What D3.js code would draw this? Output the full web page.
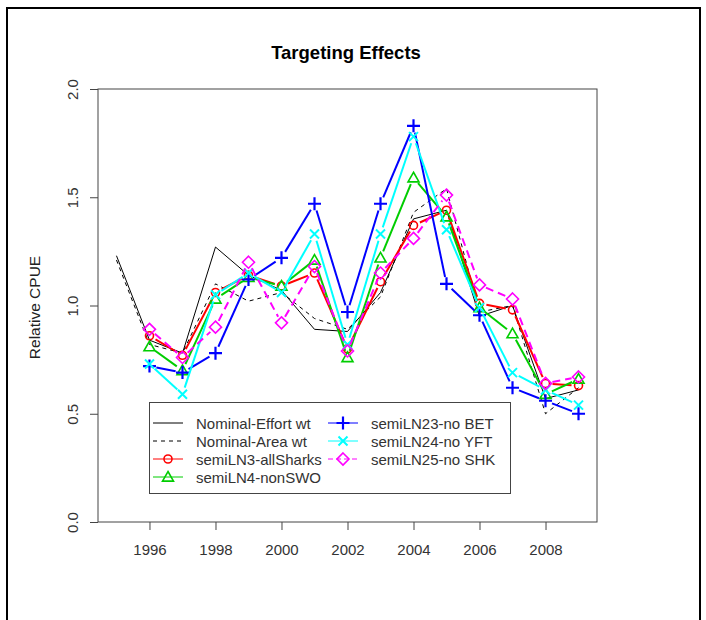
<!DOCTYPE html>
<html>
<head>
<meta charset="utf-8">
<script src="https://cdn.jsdelivr.net/npm/d3@7"></script>
<style>
  html, body { margin: 0; padding: 0; background: #fff; }
  svg { display: block; font-family: "Liberation Sans", Arial, sans-serif; }
</style>
</head>
<body>
<svg id="chart" width="706" height="620"></svg>
<script>
// ---- Data ----
const yearsNominal = [1995,1996,1997,1998,1999,2000,2001,2002,2003,2004,2005,2006,2007,2008,2009];
const yearsSemi    = [1996,1997,1998,1999,2000,2001,2002,2003,2004,2005,2006,2007,2008,2009];
const nominalEffort = [1.23,0.84,0.78,1.27,1.14,1.07,0.89,0.88,1.06,1.40,1.44,0.95,1.00,0.57,0.61];
const nominalArea   = [1.21,0.82,0.78,1.10,1.02,1.06,0.94,0.89,1.04,1.43,1.54,0.97,1.00,0.50,0.62];
const semiLN3  = [0.86,0.77,1.06,1.14,1.09,1.15,0.80,1.11,1.37,1.44,1.01,0.98,0.64,0.63];
const semiLN4  = [0.81,0.70,1.03,1.13,1.09,1.21,0.76,1.22,1.59,1.41,0.99,0.87,0.59,0.66];
const semiLN23 = [0.72,0.69,0.78,1.12,1.22,1.47,0.97,1.47,1.83,1.10,0.955,0.62,0.56,0.50];
const semiLN24 = [0.73,0.59,1.05,1.15,1.06,1.33,0.82,1.33,1.78,1.35,0.99,0.69,0.61,0.54];
const semiLN25 = [0.89,0.76,0.90,1.20,0.92,1.18,0.79,1.15,1.31,1.51,1.095,1.03,0.64,0.67];
const xTicks = [1996,1998,2000,2002,2004,2006,2008];
const yTicks = [0.0,0.5,1.0,1.5,2.0];
const title = "Targeting Effects";
const yLabel = "Relative CPUE";

const series = [
  {name:"Nominal-Effort wt", years:yearsNominal, values:nominalEffort, color:"#000", width:1, dash:null, sym:null, col:0, row:0},
  {name:"Nominal-Area wt",   years:yearsNominal, values:nominalArea,   color:"#000", width:1, dash:"4,4", sym:null, col:0, row:1},
  {name:"semiLN3-allSharks", years:yearsSemi, values:semiLN3,  color:"#FF0000", width:2, dash:null, sym:"circle", col:0, row:2},
  {name:"semiLN4-nonSWO",    years:yearsSemi, values:semiLN4,  color:"#00CD00", width:2, dash:null, sym:"triangle", col:0, row:3},
  {name:"semiLN23-no BET",   years:yearsSemi, values:semiLN23, color:"#0000FF", width:2, dash:null, sym:"plus", col:1, row:0},
  {name:"semiLN24-no YFT",   years:yearsSemi, values:semiLN24, color:"#00FFFF", width:2, dash:null, sym:"cross", col:1, row:1},
  {name:"semiLN25-no SHK",   years:yearsSemi, values:semiLN25, color:"#FF00FF", width:2, dash:"8,5", sym:"diamond", col:1, row:2}
];

// ---- Layout ----
const svg = d3.select("#chart");
const box = {left:98, right:597, top:89, bottom:522};
const x = d3.scaleLinear().domain([1995 - 14*0.04, 2009 + 14*0.04]).range([box.left, box.right]);
const y = d3.scaleLinear().domain([0, 2]).range([box.bottom, box.top]);

// outer frame
svg.append("rect").attr("x",7).attr("y",8).attr("width",693).attr("height",640)
  .attr("fill","none").attr("stroke","#000").attr("stroke-width",2);

// title
svg.append("text").attr("x",346).attr("y",59).attr("text-anchor","middle")
  .attr("font-size",18.5).attr("font-weight","bold").attr("fill","#000").text(title);

// plot box
svg.append("rect").attr("x",box.left).attr("y",box.top)
  .attr("width",box.right-box.left).attr("height",box.bottom-box.top)
  .attr("fill","none").attr("stroke","#444").attr("stroke-width",1);

// axes
const xAxis = svg.append("g").attr("transform",`translate(0,${box.bottom})`)
  .call(d3.axisBottom(x).tickValues(xTicks).tickFormat(d3.format("d")).tickSize(8).tickPadding(14));
xAxis.select(".domain").remove();
xAxis.selectAll("line").attr("stroke","#444");
xAxis.selectAll("text").attr("font-size",15).attr("fill","#333")
  .attr("font-family","'Liberation Sans', Arial, sans-serif");

const yAxis = svg.append("g").attr("transform",`translate(${box.left},0)`)
  .call(d3.axisLeft(y).tickValues(yTicks).tickFormat(d3.format(".1f")).tickSize(8).tickPadding(0));
yAxis.select(".domain").remove();
yAxis.selectAll("line").attr("stroke","#444");
yAxis.selectAll(".tick text").attr("font-size",15).attr("fill","#333")
  .attr("font-family","'Liberation Sans', Arial, sans-serif")
  .attr("text-anchor","middle").attr("x",0).attr("dy",0)
  .attr("dominant-baseline","central")
  .attr("transform","translate(-26,0) rotate(-90)");

// y label
svg.append("text").attr("transform",`translate(40,${(box.top+box.bottom)/2+2}) rotate(-90)`)
  .attr("text-anchor","middle").attr("font-size",15.5).attr("fill","#222").text(yLabel);

// symbol drawer
function drawSym(g, type, cx, cy, color) {
  const sw = 1.6;
  if (type === "circle") {
    g.append("circle").attr("cx",cx).attr("cy",cy).attr("r",4)
      .attr("fill","none").attr("stroke",color).attr("stroke-width",sw);
  } else if (type === "triangle") {
    const s = 5.5;
    g.append("path").attr("d",`M${cx},${cy-s}L${cx+s},${cy+s*0.75}L${cx-s},${cy+s*0.75}Z`)
      .attr("fill","none").attr("stroke",color).attr("stroke-width",sw);
  } else if (type === "plus") {
    const s = 6.5;
    g.append("path").attr("d",`M${cx-s},${cy}H${cx+s}M${cx},${cy-s}V${cy+s}`)
      .attr("stroke",color).attr("stroke-width",2.2);
  } else if (type === "cross") {
    const s = 4.5;
    g.append("path").attr("d",`M${cx-s},${cy-s}L${cx+s},${cy+s}M${cx-s},${cy+s}L${cx+s},${cy-s}`)
      .attr("stroke",color).attr("stroke-width",2);
  } else if (type === "diamond") {
    const s = 6;
    g.append("path").attr("d",`M${cx},${cy-s}L${cx+s},${cy}L${cx},${cy+s}L${cx-s},${cy}Z`)
      .attr("fill","none").attr("stroke",color).attr("stroke-width",sw);
  }
}

// series
const plot = svg.append("g");
const gap = 7;
series.forEach(s => {
  const g = plot.append("g");
  const pts = s.years.map((yr,i) => [x(yr), y(s.values[i])]);
  if (!s.sym) {
    g.append("path").attr("d", d3.line()(pts)).attr("fill","none")
      .attr("stroke",s.color).attr("stroke-width",s.width)
      .attr("stroke-dasharray", s.dash);
  } else {
    // type "b": segments with gaps around points
    for (let i = 0; i < pts.length-1; i++) {
      const [x0,y0] = pts[i], [x1,y1] = pts[i+1];
      const dx = x1-x0, dy = y1-y0, L = Math.hypot(dx,dy);
      if (L <= 2*gap) continue;
      const ux = dx/L, uy = dy/L;
      g.append("line")
        .attr("x1",x0+ux*gap).attr("y1",y0+uy*gap)
        .attr("x2",x1-ux*gap).attr("y2",y1-uy*gap)
        .attr("stroke",s.color).attr("stroke-width",s.width)
        .attr("stroke-dasharray", s.dash);
    }
    pts.forEach(p => drawSym(g, s.sym, p[0], p[1], s.color));
  }
});

// legend
const leg = {x:149.5, y:402.5, w:361, h:91};
const lg = svg.append("g");
lg.append("rect").attr("x",leg.x).attr("y",leg.y).attr("width",leg.w).attr("height",leg.h)
  .attr("fill","#fff").attr("stroke","#444").attr("stroke-width",1);
const colX = [153, 328];
const rowY = [423, 441, 459, 477];
series.forEach(s => {
  const lx = colX[s.col], ly = rowY[s.row];
  lg.append("line").attr("x1",lx).attr("x2",lx+30).attr("y1",ly).attr("y2",ly)
    .attr("stroke",s.color).attr("stroke-width",1)
    .attr("stroke-dasharray", s.dash ? (s.width > 1 ? "5,3" : "4,4") : null);
  if (s.sym) drawSym(lg, s.sym, lx+15, ly, s.color);
  lg.append("text").attr("x",lx+43).attr("y",ly).attr("dominant-baseline","central")
    .attr("font-size",15).attr("fill","#333").text(s.name);
});
</script>
</body>
</html>
